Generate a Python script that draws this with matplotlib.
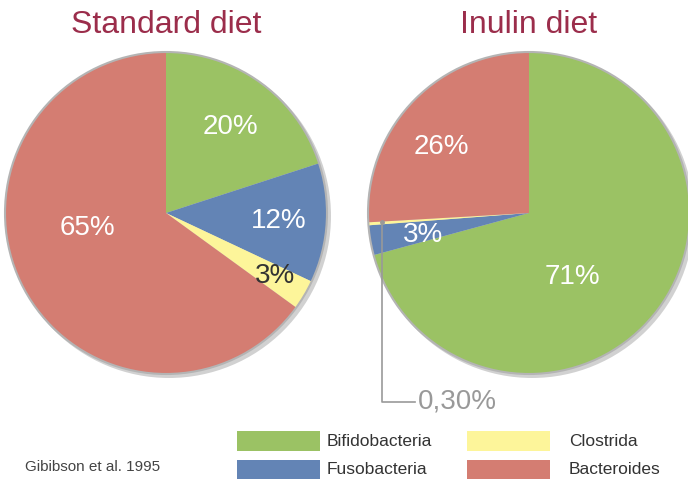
import matplotlib.pyplot as plt
from matplotlib.patches import Circle, Rectangle
import numpy as np

plt.rcParams['font.family'] = ['Liberation Sans', 'DejaVu Sans']

# data
categories = ['Bifidobacteria', 'Fusobacteria', 'Clostrida', 'Bacteroides']
colors = ['#9bc264', '#6384b5', '#fdf59a', '#d47d72']
standard = [20, 12, 3, 65]
inulin = [71, 3, 0.3, 26]
standard_labels = ['20%', '12%', '3%', '65%']
inulin_labels = ['71%', '3%', '', '26%']
titles = ['Standard diet', 'Inulin diet']
source = 'Gibibson et al. 1995'

W, H = 688, 479
fig = plt.figure(figsize=(W / 100, H / 100), dpi=100)
ax = fig.add_axes([0, 0, 1, 1])
ax.set_xlim(0, W)
ax.set_ylim(0, H)
ax.set_aspect('equal')
ax.axis('off')

R = 161
centers = [(166, H - 213), (529, H - 213)]

# label placement: (radius fraction, angle in degrees) per wedge
std_pos = [(0.67, 53), (0.70, -4), (0.78, -30), (0.50, 191)]
inu_pos = [(0.48, -56), (0.67, 192), None, (0.68, 143)]
std_colors = ['white', 'white', '#333333', 'white']

def draw_pie(vals, center, labels, pos, tcolors, title):
    cx, cy = center
    ax.add_patch(Circle((cx + 3, cy - 3), R + 1, color='#000000', alpha=0.18, lw=0, zorder=1))
    ax.pie(vals, colors=colors, startangle=90, counterclock=False, center=center,
           radius=R, frame=True, wedgeprops=dict(linewidth=0, zorder=2))
    ax.add_patch(Circle((cx, cy), R, fill=False, edgecolor='#b4b4b4', lw=1.5, zorder=3))
    for lab, p, tc in zip(labels, pos, tcolors):
        if p is None or not lab:
            continue
        r, a = p
        x = cx + r * R * np.cos(np.radians(a))
        y = cy + r * R * np.sin(np.radians(a))
        ax.text(x, y, lab, color=tc, fontsize=20, ha='center', va='center', zorder=4)
    ax.text(cx, H - 25, title, color='#9b2d4b', fontsize=23, ha='center', va='center')

draw_pie(standard, centers[0], standard_labels, std_pos, std_colors, titles[0])
draw_pie(inulin, centers[1], inulin_labels, inu_pos, ['white'] * 4, titles[1])

ax.set_xlim(0, W)
ax.set_ylim(0, H)
ax.axis('off')

# callout for the tiny Clostrida slice
ax.plot([382, 382, 415], [H - 222, H - 402, H - 402], color='#999999', lw=1.2, zorder=5)
ax.plot([382], [H - 222], marker='o', ms=2.5, color='#999999', zorder=5)
ax.text(418, H - 402, '0,30%', color='#999999', fontsize=20, ha='left', va='center')

# legend
leg_x = [237, 467]
leg_y = [441, 470]
text_x = [327, 569]
for i, name in enumerate(categories):
    col, row = divmod(i, 2)
    ax.add_patch(Rectangle((leg_x[col], H - leg_y[row] - 10), 83, 20, color=colors[i], lw=0))
    ax.text(text_x[col], H - leg_y[row], name, color='#333333', fontsize=12.5,
            ha='left', va='center')

ax.text(25, H - 467, source, color='#444444', fontsize=11, ha='left', va='center')

fig.savefig('out.png', dpi=100)
